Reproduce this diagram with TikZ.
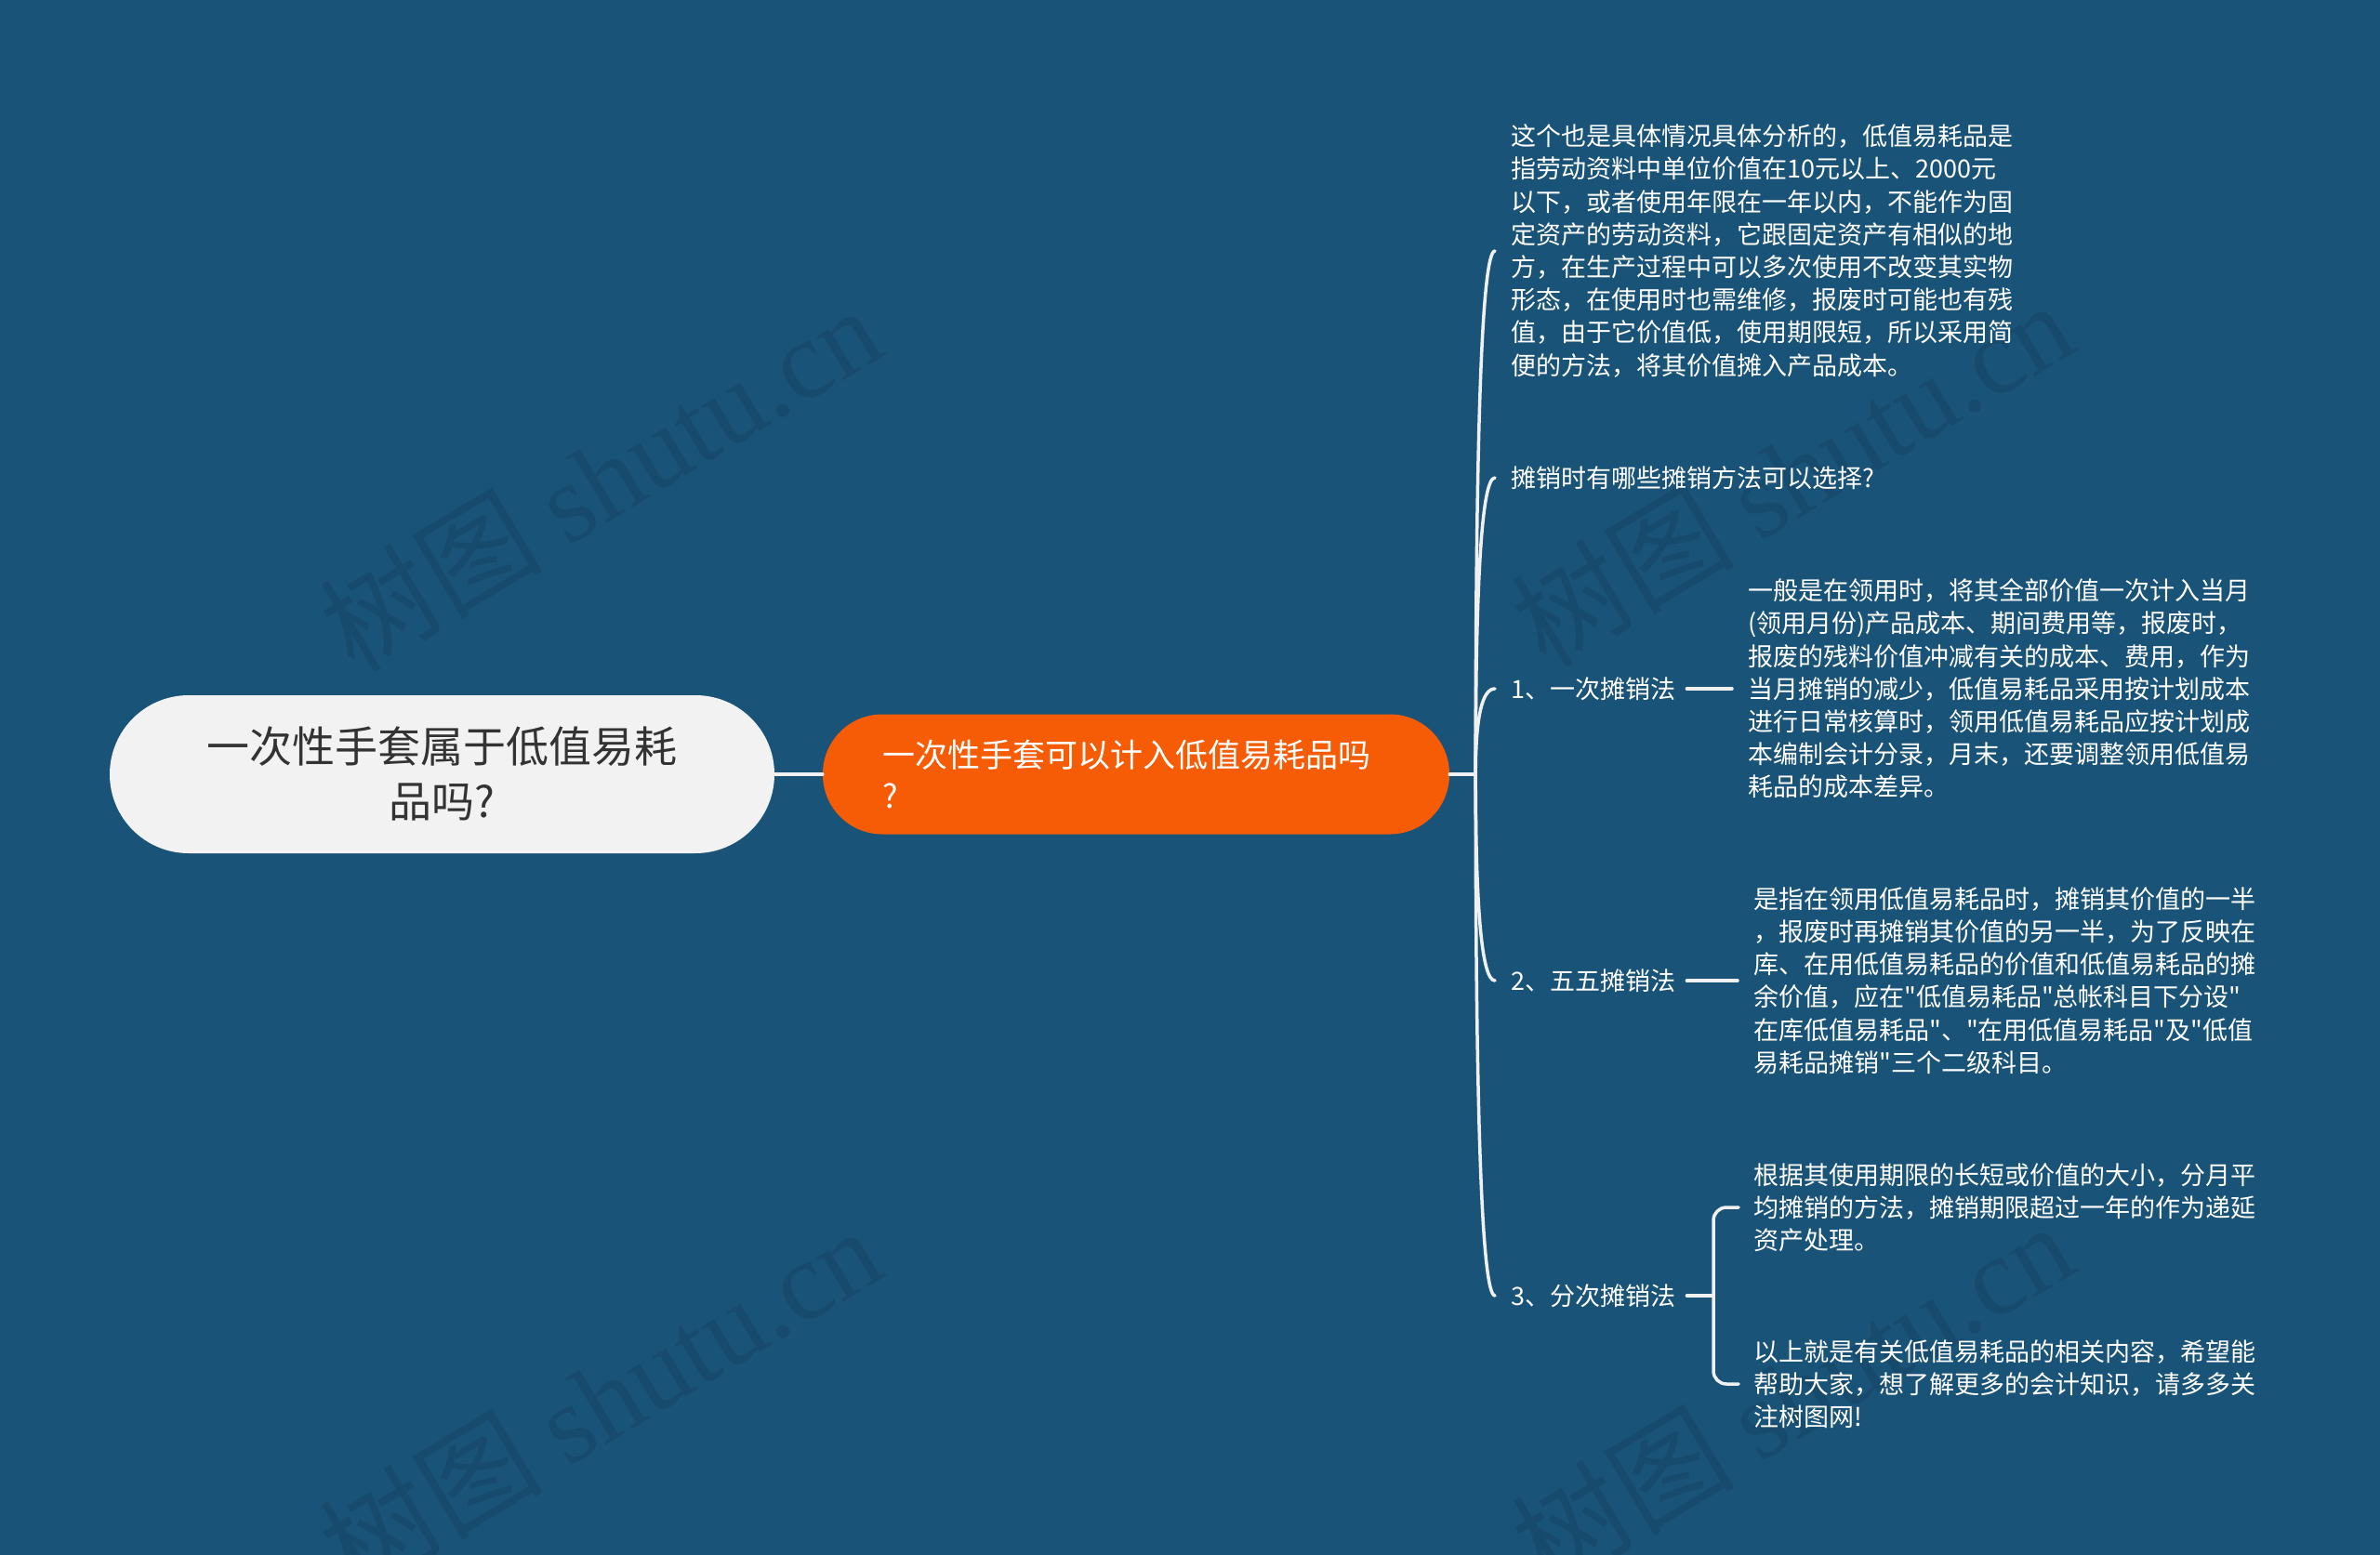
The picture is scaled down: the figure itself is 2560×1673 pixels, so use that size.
\documentclass[tikz,border=0pt]{standalone}
\usepackage{fontspec}
\setmainfont{Noto Sans CJK SC}[Ligatures=TeXOff]
\newfontfamily\wmlatin{Liberation Serif}
\usetikzlibrary{calc}
\definecolor{bg}{HTML}{1A5378}
\definecolor{linec}{HTML}{F0F0F0}
\definecolor{rootfill}{HTML}{F2F2F2}
\definecolor{roottext}{HTML}{333333}
\definecolor{mainorange}{HTML}{F65B06}
\tikzset{
  conn/.style={draw=linec, line width=3.5pt, line cap=round},
  rootnode/.style={fill=rootfill, rounded corners=85pt, minimum width=715pt, minimum height=170pt,
    inner sep=0pt, text=roottext, align=center, font=\fontsize{46pt}{59pt}\selectfont},
  mainnode/.style={fill=mainorange, rounded corners=64pt, minimum width=674pt, minimum height=129pt,
    inner sep=0pt, text=white, text width=545pt, align=left, font=\fontsize{35pt}{44pt}\selectfont},
  leaf/.style={anchor=west, inner sep=0pt, text=white, align=left, font=\fontsize{27pt}{35.2pt}\selectfont},
  wm/.style={rotate=31, text=black, opacity=0.09, font=\fontsize{120pt}{130pt}\selectfont, inner sep=0pt},
}
\begin{document}
\begin{tikzpicture}[x=1pt,y=-1pt]
\useasboundingbox[fill=bg] (0,0) rectangle (2560,1673);

% watermarks
\node[wm] (wm1) at (645,514) {树图 {\wmlatin shutu.cn}};
\node[wm] (wm2) at (1927,509) {树图 {\wmlatin shutu.cn}};
\node[wm] (wm3) at (645,1505) {树图 {\wmlatin shutu.cn}};
\node[wm] (wm4) at (1927,1500) {树图 {\wmlatin shutu.cn}};

% main nodes
\node[rootnode] (root) at (475.5,833) {一次性手套属于低值易耗\\品吗?};
\node[mainnode] (main) at (1222,833) {一次性手套可以计入低值易耗品吗\\?};

% children
\node[leaf, text width=560pt] (t1) at (1625,270) {这个也是具体情况具体分析的，低值易耗品是\\指劳动资料中单位价值在10元以上、2000元\\以下，或者使用年限在一年以内，不能作为固\\定资产的劳动资料，它跟固定资产有相似的地\\方，在生产过程中可以多次使用不改变其实物\\形态，在使用时也需维修，报废时可能也有残\\值，由于它价值低，使用期限短，所以采用简\\便的方法，将其价值摊入产品成本。};
\node[leaf] (t2) at (1625,514) {摊销时有哪些摊销方法可以选择?};
\node[leaf] (L1) at (1625,741) {1、一次摊销法};
\node[leaf] (L2) at (1625,1055) {2、五五摊销法};
\node[leaf] (L3) at (1625,1394) {3、分次摊销法};

\node[leaf, text width=560pt] (D1) at (1880,741) {一般是在领用时，将其全部价值一次计入当月\\(领用月份)产品成本、期间费用等，报废时，\\报废的残料价值冲减有关的成本、费用，作为\\当月摊销的减少，低值易耗品采用按计划成本\\进行日常核算时，领用低值易耗品应按计划成\\本编制会计分录，月末，还要调整领用低值易\\耗品的成本差异。};
\node[leaf, text width=560pt] (D2) at (1886,1055) {是指在领用低值易耗品时，摊销其价值的一半\\，报废时再摊销其价值的另一半，为了反映在\\库、在用低值易耗品的价值和低值易耗品的摊\\余价值，应在"低值易耗品"总帐科目下分设"\\在库低值易耗品"、"在用低值易耗品"及"低值\\易耗品摊销"三个二级科目。};
\node[leaf, text width=560pt] (D3a) at (1886,1299) {根据其使用期限的长短或价值的大小，分月平\\均摊销的方法，摊销期限超过一年的作为递延\\资产处理。};
\node[leaf, text width=560pt] (D3b) at (1886,1489) {以上就是有关低值易耗品的相关内容，希望能\\帮助大家，想了解更多的会计知识，请多多关\\注树图网!};

% connectors
\draw[conn] (root.east) -- (main.west);
\coordinate (J) at ($(main.east)+(28,0)$);
\draw[conn] (main.east) -- (J);
\foreach \c in {t1,t2,L1,L2,L3}{
  \coordinate (e) at ($(\c.west)+(-17,0)$);
  \draw[conn] (J) .. controls ($(J)!0.667!(J|-e)$) and ($(e)!0.667!(J|-e)$) .. (e);
}
\draw[conn] ([xshift=12pt]L1.east) -- ([xshift=-17pt]D1.west);
\draw[conn] ([xshift=12pt]L2.east) -- ([xshift=-17pt]D2.west);
\coordinate (bx) at ($(D3a.west)+(-43,0)$);
\draw[conn, rounded corners=14pt] ($(D3a.west)+(-16,0)$) -- (bx) -- (bx |- D3b.west) -- ($(D3b.west)+(-16,0)$);
\draw[conn] ([xshift=12pt]L3.east) -- (bx |- L3.east);
\end{tikzpicture}
\end{document}
